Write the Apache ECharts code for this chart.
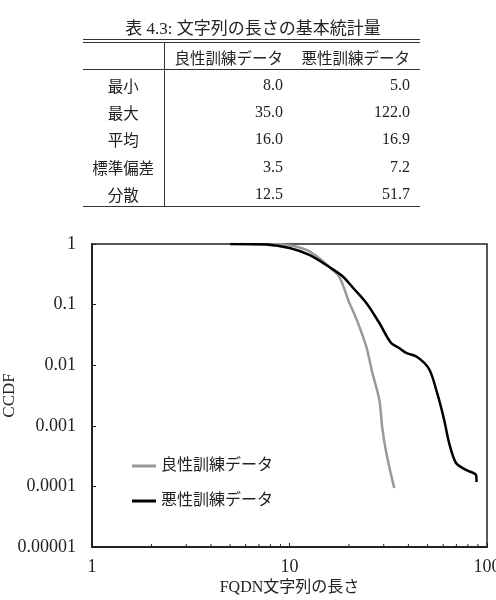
<!DOCTYPE html>
<html>
<head>
<meta charset="utf-8">
<script src="https://cdn.jsdelivr.net/npm/echarts@6/dist/echarts.min.js"></script>
<style>
  html, body { margin: 0; padding: 0; background: #fff; }
  body { width: 496px; height: 600px; position: relative; overflow: hidden;
         font-family: "Liberation Serif", "Noto Sans CJK JP", serif; color: #222; }
  #chart { position: absolute; left: 0; top: 0; width: 496px; height: 600px; }
  #title { position: absolute; left: 0; width: 506px; top: 19px; line-height: 20px; text-align: center; font-size: 17px; }
  #stats { position: absolute; left: 83px; top: 39px; width: 337px; border-collapse: collapse; table-layout: fixed;
           font-size: 15.5px; border-top: 4px double #333; border-bottom: 1px solid #333; }
  #stats td, #stats th { font-weight: normal; padding: 0; text-align: right; box-sizing: border-box; }
  #stats thead th { border-bottom: 1px solid #333; height: 28px; padding-top: 3px; }
  #stats .c1 { width: 81px; text-align: center; border-right: 1px solid #333; }
  #stats .c2 { width: 126px; padding-right: 7px; }
  #stats .c3 { width: 130px; padding-right: 10px; }
  #stats tbody td { height: 27.6px; padding-top: 3px; }
  #stats tbody .c2, #stats tbody .c3 { font-size: 16px; }
</style>
</head>
<body>
<div id="chart"></div>
<div id="title">表 4.3: 文字列の長さの基本統計量</div>
<table id="stats"></table>
<script>
// 表のデータ
const tableHeader = ['', '良性訓練データ', '悪性訓練データ'];
const statNames = ['最小', '最大', '平均', '標準偏差', '分散'];
const benignStats = ['8.0', '35.0', '16.0', '3.5', '12.5'];
const maliciousStats = ['5.0', '122.0', '16.9', '7.2', '51.7'];

// CCDF データ (FQDN文字列の長さ, CCDF)
const benignX = [8, 9.2, 10.5, 12.2, 14, 15.9, 17.9, 20.1, 21.3, 22.6, 24.5, 26.3, 28.5, 29.5, 30.9, 33.9];
const benignY = [1, 0.985, 0.93, 0.8, 0.6, 0.42, 0.285, 0.106, 0.07, 0.043, 0.02, 0.0074, 0.00267, 0.00092, 0.00036, 0.000094];
const maliciousX = [5, 7.6, 10, 12.6, 15.9, 18.5, 20.8, 24.5, 28.5, 32.7, 35.9, 39, 44.3, 50.9, 55.9, 60.7, 64.3, 69.7, 78.3, 88, 88.5];
const maliciousY = [1, 0.98, 0.86, 0.66, 0.417, 0.296, 0.195, 0.106, 0.0497, 0.0232, 0.0192, 0.0159, 0.0137, 0.00865, 0.00348, 0.00125, 0.00052, 0.000243, 0.000187, 0.000154, 0.000118];

const xTickLabels = ['1', '10', '100'];
const yTickLabels = ['0.00001', '0.0001', '0.001', '0.01', '0.1', '1'];
const xMinorTicks = [2, 3, 4, 5, 6, 7, 8, 9, 20, 30, 40, 50, 60, 70, 80, 90];

// 表を作る
const table = document.getElementById('stats');
let html = '<thead><tr>';
tableHeader.forEach((h, i) => { html += '<th class="c' + (i + 1) + '">' + h + '</th>'; });
html += '</tr></thead><tbody>';
statNames.forEach((n, i) => {
  html += '<tr><td class="c1">' + n + '</td><td class="c2">' + benignStats[i] +
          '</td><td class="c3">' + maliciousStats[i] + '</td></tr>';
});
html += '</tbody>';
table.innerHTML = html;

const font = '"Liberation Serif", "Noto Sans CJK JP", serif';
let myChart = echarts.init(document.getElementById('chart'));
let option = {
  animation: false,
  textStyle: { fontFamily: font, color: '#222' },
  grid: {
    left: 92, right: 9, top: 244, height: 303,
    outerBoundsMode: 'none',
    containLabel: false,
    show: true, borderColor: '#222', borderWidth: 1.5
  },
  legend: {
    orient: 'vertical',
    left: 132, top: 458, padding: 0,
    itemWidth: 24, itemHeight: 3, itemGap: 19,
    icon: 'rect',
    data: ['良性訓練データ', '悪性訓練データ'],
    textStyle: { fontFamily: font, fontSize: 16, color: '#222' }
  },
  xAxis: {
    type: 'log', logBase: 10, min: 1, max: 100,
    name: 'FQDN文字列の長さ', nameLocation: 'middle', nameGap: 33,
    nameMoveOverlap: false,
    nameTextStyle: { fontFamily: font, fontSize: 16, color: '#222' },
    axisLine: { lineStyle: { color: '#222', width: 2 } },
    axisTick: { inside: true, length: 4, lineStyle: { color: '#222' } },
    axisLabel: {
      margin: 11, fontSize: 18, color: '#222', fontFamily: font,
      formatter: v => xTickLabels[Math.round(Math.log10(v))]
    },
    splitLine: { show: false }
  },
  yAxis: {
    type: 'log', logBase: 10, min: 0.00001, max: 1,
    name: 'CCDF', nameLocation: 'middle', nameGap: 74, nameRotate: 90,
    nameMoveOverlap: false,
    nameTextStyle: { fontFamily: font, fontSize: 17, color: '#222' },
    axisLine: { lineStyle: { color: '#222', width: 2 } },
    axisTick: { inside: true, length: 4, lineStyle: { color: '#222' } },
    axisLabel: {
      margin: 16, fontSize: 18, color: '#222', fontFamily: font,
      formatter: v => yTickLabels[Math.round(Math.log10(v)) + 5]
    },
    splitLine: { show: false }
  },
  series: [
    {
      name: '良性訓練データ',
      type: 'line',
      data: benignX.map((x, i) => [x, benignY[i]]),
      showSymbol: false,
      smooth: 0.3,
      color: '#999',
      lineStyle: { color: '#999', width: 2.5 }
    },
    {
      name: '悪性訓練データ',
      type: 'line',
      data: maliciousX.map((x, i) => [x, maliciousY[i]]),
      showSymbol: false,
      smooth: 0.3,
      color: '#000',
      lineStyle: { color: '#000', width: 2.5 }
    },
    {
      // x軸の補助目盛
      type: 'custom',
      silent: true,
      data: xMinorTicks.map(x => [x, 0.00001]),
      renderItem: (params, api) => {
        const p = api.coord([api.value(0), api.value(1)]);
        return {
          type: 'line',
          shape: { x1: p[0], y1: p[1], x2: p[0], y2: p[1] - 3 },
          style: { stroke: '#222', lineWidth: 1 }
        };
      }
    }
  ]
};
myChart.setOption(option);
</script>
</body>
</html>
